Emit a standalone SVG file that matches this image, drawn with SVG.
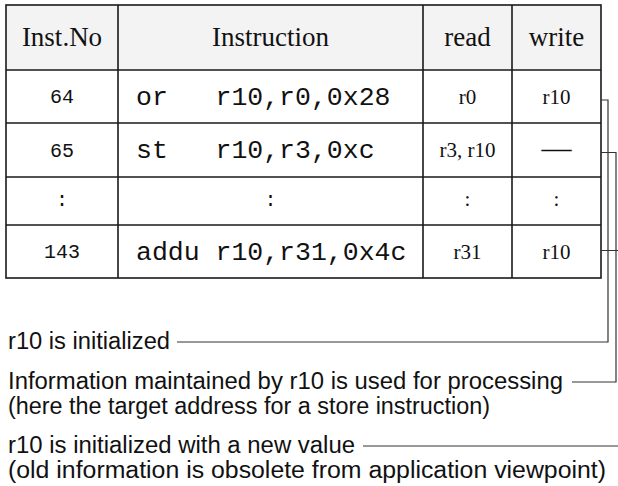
<svg xmlns="http://www.w3.org/2000/svg" width="618" height="486" viewBox="0 0 618 486">
<style>
.grid{fill:none;stroke:#1a1a1a;stroke-width:1.6}
.hdr{fill:#f3f3f3}
.th{font-family:"Liberation Serif","Times New Roman",serif;font-size:27px;fill:#111;text-anchor:middle}
.tr{font-family:"Liberation Serif","Times New Roman",serif;font-size:21px;fill:#111;text-anchor:middle}
.mono{font-family:"Liberation Mono","Courier New",monospace;font-size:26.5px;fill:#111}
.num{font-family:"Liberation Mono","Courier New",monospace;font-size:20px;fill:#111;text-anchor:middle}
.lbl{font-family:"Liberation Sans",Arial,sans-serif;font-size:23px;fill:#111}
.conn{fill:none;stroke:#333;stroke-width:1.2}
</style>
<rect width="618" height="486" fill="#fff"/>
<g id="table">
  <rect class="hdr" x="6" y="5" width="595" height="65"/>
  <g id="grid">
    <rect class="grid" x="6" y="5" width="595" height="273"/>
    <path class="grid" d="M6,70H601M6,123H601M6,177H601M6,225H601M118,5V278M423,5V278M512,5V278"/>
  </g>
  <g id="header">
    <text class="th" x="62" y="46">Inst.No</text>
    <text class="th" x="270.5" y="46">Instruction</text>
    <text class="th" x="467.5" y="46">read</text>
    <text class="th" x="556.5" y="46">write</text>
  </g>
  <g id="row64">
    <text class="num" x="62" y="103">64</text>
    <text class="mono" x="136" y="105" xml:space="preserve">or   r10,r0,0x28</text>
    <text class="tr" x="467.5" y="104">r0</text>
    <text class="tr" x="556.5" y="104">r10</text>
  </g>
  <g id="row65">
    <text class="num" x="62" y="157">65</text>
    <text class="mono" x="136" y="158" xml:space="preserve">st   r10,r3,0xc</text>
    <text class="tr" x="467.5" y="157">r3, r10</text>
    <text class="tr" x="556.5" y="158" style="font-size:30px">—</text>
  </g>
  <g id="rowdots">
    <text class="num" x="62" y="206">:</text>
    <text class="num" x="270.5" y="206">:</text>
    <text class="tr" x="467.5" y="206">:</text>
    <text class="tr" x="556.5" y="206">:</text>
  </g>
  <g id="row143">
    <text class="num" x="62" y="258">143</text>
    <text class="mono" x="136" y="260" xml:space="preserve">addu r10,r31,0x4c</text>
    <text class="tr" x="467.5" y="259">r31</text>
    <text class="tr" x="556.5" y="259">r10</text>
  </g>
</g>
<g id="connectors">
  <path class="conn" d="M601,100H608V342H177"/>
  <path class="conn" d="M601,152.5H616V382H572"/>
  <path class="conn" d="M601,250.5H620V446H363"/>
</g>
<g id="label1">
  <text class="lbl" x="8" y="349" textLength="162" lengthAdjust="spacingAndGlyphs">r10 is initialized</text>
</g>
<g id="label2">
  <text class="lbl" x="8" y="389" textLength="555" lengthAdjust="spacingAndGlyphs">Information maintained by r10 is used for processing</text>
  <text class="lbl" x="8" y="414" textLength="482" lengthAdjust="spacingAndGlyphs">(here the target address for a store instruction)</text>
</g>
<g id="label3">
  <text class="lbl" x="8" y="453" textLength="347" lengthAdjust="spacingAndGlyphs">r10 is initialized with a new value</text>
  <text class="lbl" x="8" y="478" textLength="598" lengthAdjust="spacingAndGlyphs">(old information is obsolete from application viewpoint)</text>
</g>
</svg>
